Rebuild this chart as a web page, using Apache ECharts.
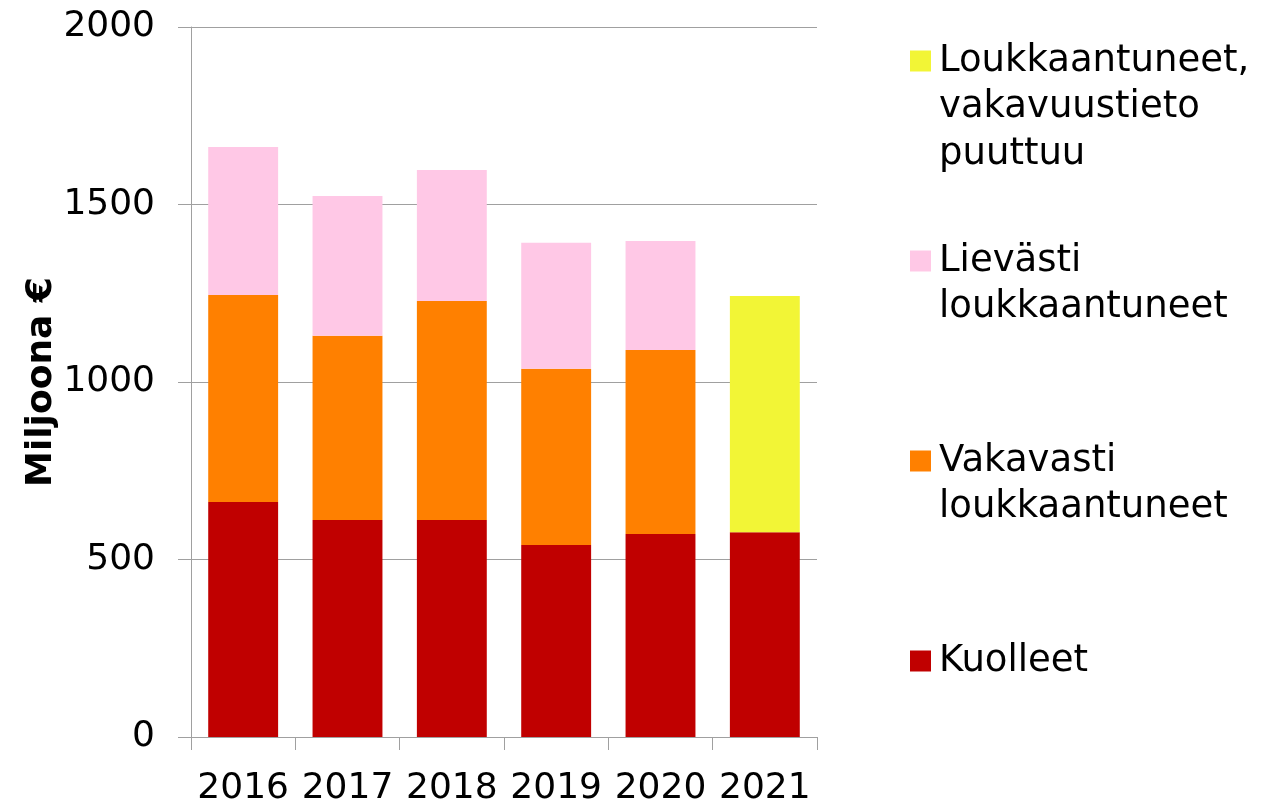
<!DOCTYPE html>
<html>
<head>
<meta charset="utf-8">
<script src="https://cdn.jsdelivr.net/npm/echarts@6/dist/echarts.min.js"></script>
<style>
  html, body { margin: 0; padding: 0; background: #fff; }
  #main { width: 1281px; height: 803px; }
</style>
</head>
<body>
<div id="main"></div>
<script>
// data (milj. €)
var years = ['2016', '2017', '2018', '2019', '2020', '2021'];
var kuolleet = [662, 611, 611, 541, 572, 577];
var vakavasti = [583, 519, 617, 496, 518, null];
var lievasti = [417, 394, 369, 355, 307, null];
var puuttuu = [null, null, null, null, null, 665];
var yTicks = [0, 500, 1000, 1500, 2000];

var names = ['Kuolleet', 'Vakavasti loukkaantuneet', 'Lievästi loukkaantuneet', 'Loukkaantuneet, vakavuustieto puuttuu'];
var labels = {
  'Kuolleet': 'Kuolleet',
  'Vakavasti loukkaantuneet': 'Vakavasti\nloukkaantuneet',
  'Lievästi loukkaantuneet': 'Lievästi\nloukkaantuneet',
  'Loukkaantuneet, vakavuustieto puuttuu': 'Loukkaantuneet,\nvakavuustieto\npuuttuu'
};
var colors = ['#C00000', '#FF8000', '#FFC8E6', '#F2F536'];

var FONT = 'DejaVu Sans';
var LH = 46.5;

var chart = echarts.init(document.getElementById('main'));

// one legend per entry, marker lined up with the first text line
function makeLegend(name, centerY) {
  var lines = labels[name].split('\n').length;
  var pad = '';
  for (var i = 1; i < lines; i++) pad += '\n';
  var total = lines * 2 - 1;
  return {
    data: [name],
    orient: 'vertical',
    left: 910,
    top: centerY - total * LH / 2,
    padding: 0,
    itemWidth: 21,
    itemHeight: 21,
    icon: 'rect',
    selectedMode: false,
    formatter: function (n) { return pad + labels[n]; },
    textStyle: { fontFamily: FONT, fontSize: 37, lineHeight: LH, color: '#000', padding: [0, 0, 0, 3] }
  };
}

var option = {
  animation: false,
  backgroundColor: '#fff',
  grid: { left: 191, right: 464, top: 27, bottom: 66, outerBoundsMode: 'none', containLabel: false },
  legend: [
    makeLegend(names[3], 61),
    makeLegend(names[2], 261),
    makeLegend(names[1], 461),
    makeLegend(names[0], 661)
  ],
  xAxis: {
    type: 'category',
    data: years,
    axisLine: { lineStyle: { color: '#A0A0A0', width: 1 } },
    axisTick: { show: true, interval: 0, length: 13, lineStyle: { color: '#A0A0A0' } },
    axisLabel: { interval: 0, fontFamily: FONT, fontSize: 36, color: '#000', margin: 34 }
  },
  yAxis: {
    type: 'value',
    min: yTicks[0],
    max: yTicks[yTicks.length - 1],
    interval: yTicks[1] - yTicks[0],
    name: 'Miljoona €',
    nameLocation: 'middle',
    nameGap: 127,
    nameTextStyle: { fontFamily: FONT, fontSize: 36, fontWeight: 'bold', color: '#000' },
    axisLine: { show: true, lineStyle: { color: '#A0A0A0', width: 1 } },
    axisTick: { show: true, length: 13, lineStyle: { color: '#A0A0A0' } },
    splitLine: { lineStyle: { color: '#A0A0A0', width: 1 } },
    axisLabel: { fontFamily: FONT, fontSize: 36, color: '#000', margin: 36, formatter: function (v) { return String(v); } }
  },
  series: [
    { name: names[0], type: 'bar', stack: 'a', barWidth: '67%', data: kuolleet, itemStyle: { color: colors[0] } },
    { name: names[1], type: 'bar', stack: 'a', barWidth: '67%', data: vakavasti, itemStyle: { color: colors[1] } },
    { name: names[2], type: 'bar', stack: 'a', barWidth: '67%', data: lievasti, itemStyle: { color: colors[2] } },
    { name: names[3], type: 'bar', stack: 'a', barWidth: '67%', data: puuttuu, itemStyle: { color: colors[3] } }
  ]
};

chart.setOption(option);
</script>
</body>
</html>
